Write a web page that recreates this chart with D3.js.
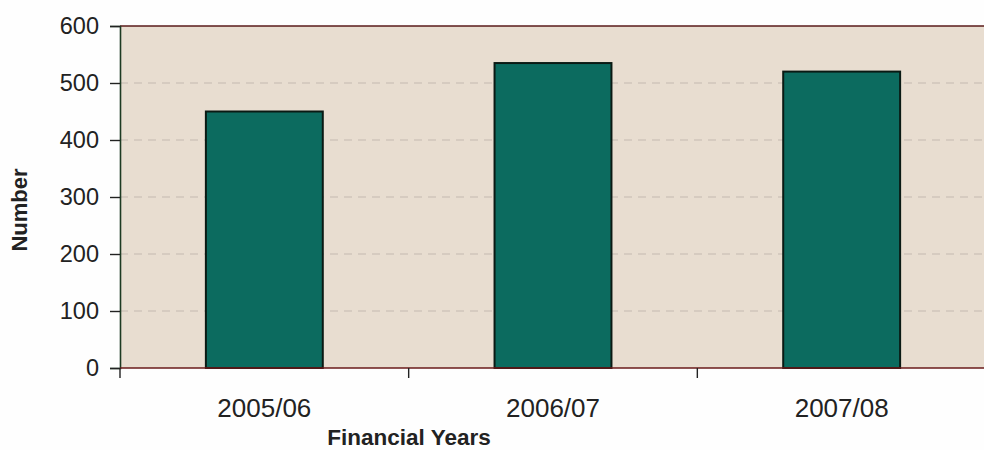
<!DOCTYPE html>
<html>
<head>
<meta charset="utf-8">
<script src="https://cdn.jsdelivr.net/npm/d3@7"></script>
<style>
  html, body { margin: 0; padding: 0; background: #fefefe; }
  svg { display: block; }
  text { font-family: Arial, "Liberation Sans", sans-serif; fill: #222; }
</style>
</head>
<body>
<svg id="chart" width="984" height="450"></svg>
<script>
// Data
const years = ["2005/06", "2006/07", "2007/08"];
const counts = [450, 535, 520];
const yTicks = [0, 100, 200, 300, 400, 500, 600];

const svg = d3.select("#chart");
const margin = { left: 120, top: 26, right: -2, bottom: 82 };
const W = 984, H = 450;
const x0 = margin.left, x1 = W - margin.right;
const yTop = margin.top, yBot = H - margin.bottom;

const x = d3.scaleBand().domain(years).range([x0, x1]).paddingInner(0.595).paddingOuter(0.2975);
const y = d3.scaleLinear().domain([0, 600]).range([yBot, yTop]);

// plot background
svg.append("rect")
  .attr("x", x0).attr("y", yTop)
  .attr("width", x1 - x0).attr("height", yBot - yTop)
  .attr("fill", "#e8ddd0");

// dashed gridlines
svg.append("g")
  .selectAll("line")
  .data(yTicks.filter(d => d > 0 && d < 600))
  .join("line")
  .attr("x1", x0).attr("x2", x1)
  .attr("y1", d => y(d)).attr("y2", d => y(d))
  .attr("stroke", "#c4bab0")
  .attr("stroke-width", 1.2)
  .attr("stroke-dasharray", "8,6");

// top frame line
svg.append("line")
  .attr("x1", x0).attr("x2", x1)
  .attr("y1", y(600)).attr("y2", y(600))
  .attr("stroke", "#5a1a1a").attr("stroke-width", 1.6);

// bars
svg.append("g")
  .selectAll("rect")
  .data(years.map((c, i) => ({ c, v: counts[i] })))
  .join("rect")
  .attr("x", d => x(d.c))
  .attr("y", d => y(d.v))
  .attr("width", x.bandwidth())
  .attr("height", d => y(0) - y(d.v))
  .attr("fill", "#0c6b5f")
  .attr("stroke", "#0a1a14")
  .attr("stroke-width", 2);

// y axis
const yAxis = svg.append("g")
  .attr("transform", `translate(${x0},0)`)
  .call(d3.axisLeft(y).tickValues(yTicks).tickSize(10).tickPadding(11));
yAxis.select(".domain").attr("stroke", "#1d3a22").attr("stroke-width", 1.6);
yAxis.selectAll(".tick line").attr("stroke", "#222").attr("stroke-width", 1.4);
yAxis.selectAll(".tick text")
  .attr("font-size", null)
  .style("font-size", "23.5px")
  .style("font-family", "Arial, 'Liberation Sans', sans-serif")
  .attr("fill", "#222");
yAxis.attr("font-size", null).attr("font-family", null);

// x axis: ticks at category boundaries
const xAxisG = svg.append("g");
xAxisG.append("line")
  .attr("x1", x0).attr("x2", x1)
  .attr("y1", yBot).attr("y2", yBot)
  .attr("stroke", "#6a1a1a").attr("stroke-width", 1.6);
const step = x.step();
const bounds = d3.range(years.length + 1).map(i => x0 + i * step);
xAxisG.selectAll("line.tk")
  .data(bounds)
  .join("line")
  .attr("class", "tk")
  .attr("x1", d => d).attr("x2", d => d)
  .attr("y1", yBot).attr("y2", yBot + 10)
  .attr("stroke", "#222").attr("stroke-width", 1.4);
xAxisG.selectAll("text")
  .data(years)
  .join("text")
  .attr("x", d => x(d) + x.bandwidth() / 2)
  .attr("y", 417)
  .attr("text-anchor", "middle")
  .style("font-size", "26px")
  .text(d => d);

// axis titles
svg.append("text")
  .attr("x", 409)
  .attr("y", 445)
  .attr("text-anchor", "middle")
  .style("font-size", "22.5px")
  .attr("font-weight", "bold")
  .text("Financial Years");

svg.append("text")
  .attr("transform", "translate(27,210) rotate(-90)")
  .attr("text-anchor", "middle")
  .style("font-size", "22px")
  .attr("font-weight", "bold")
  .text("Number");
</script>
</body>
</html>
